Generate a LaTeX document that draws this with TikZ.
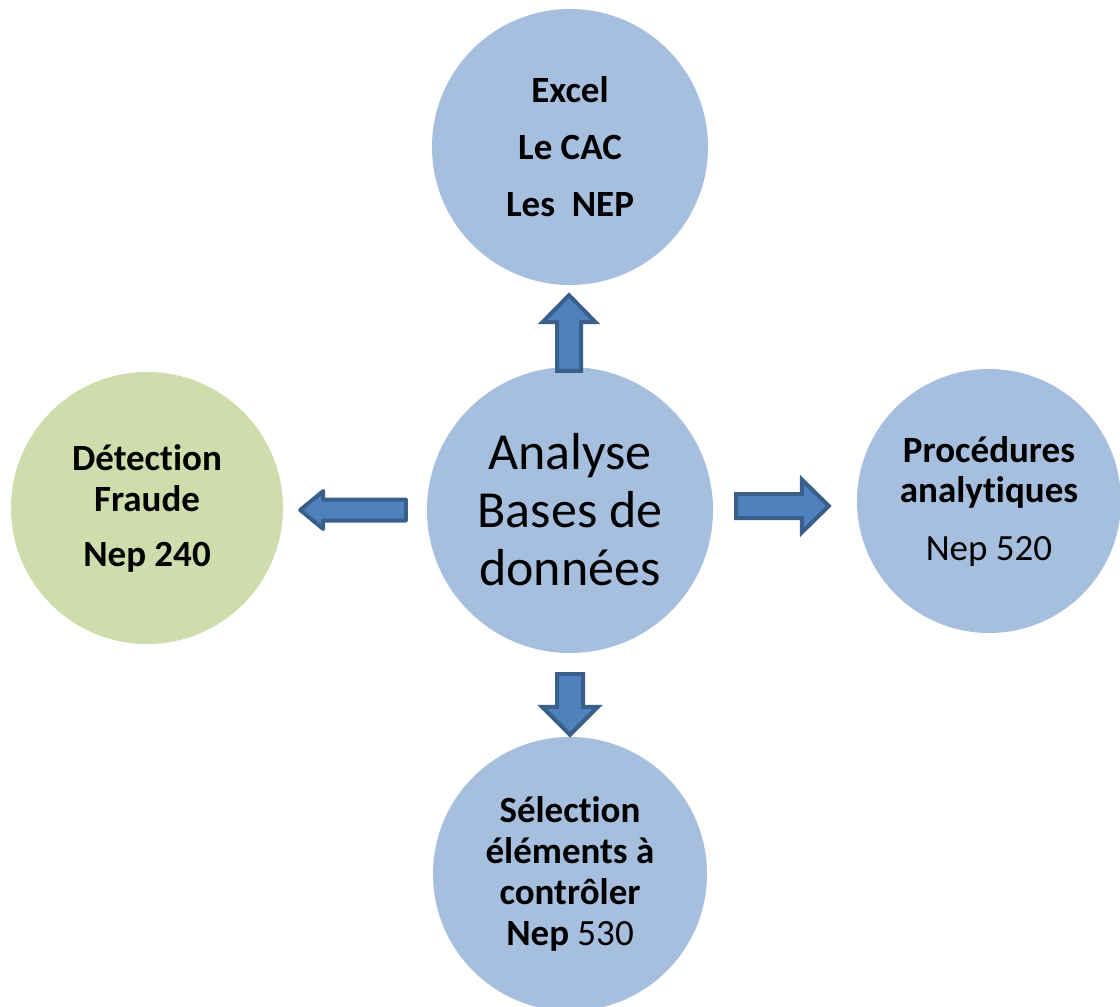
\documentclass[tikz,border=0pt]{standalone}
\usepackage{fontspec}
\setmainfont{Carlito}[RawFeature=-liga]
\usetikzlibrary{calc}

\definecolor{bubbleblue}{HTML}{A7BFDE}
\definecolor{bubblegreen}{HTML}{CFDDAC}
\definecolor{arrowfill}{HTML}{4F81BD}
\definecolor{arrowline}{HTML}{3A5F8B}

% Block arrow from #1 to #2: shaft half width #3, head half width #4, head length #5
\newcommand\blockarrow[6][]{%
  \draw[barrow, #1] let \p1=(#2), \p2=(#3),
      \n1={atan2(\y2-\y1,\x2-\x1)}, \n2={veclen(\x2-\x1,\y2-\y1)} in
    [shift={(\p1)}, rotate=\n1]
    (0,-#4) -- ({\n2-#6},-#4) -- ({\n2-#6},-#5) -- ({\n2},0)
    -- ({\n2-#6},#5) -- ({\n2-#6},#4) -- (0,#4) -- cycle;
}

\tikzset{
  bubble/.style={circle, fill=bubbleblue, draw=none, inner sep=0pt, align=center},
  greenbubble/.style={bubble, fill=bubblegreen},
  barrow/.style={fill=arrowfill, draw=arrowline, line width=4pt, line join=miter},
}

\begin{document}
\begin{tikzpicture}[x=1pt, y=-1pt]
  \useasboundingbox[fill=white] (0,0) rectangle (1120,1007);

  % circles
  \node[bubble, minimum size=286pt, font=\fontsize{52}{58}\selectfont]
    (ctr) at (570,510) {Analyse\\Bases de\\données};
  \node[bubble, minimum size=276pt, font=\fontsize{37}{44}\selectfont\bfseries]
    (top) at (570,147) {Excel\\[13pt]Le CAC\\[13pt]Les\ \ NEP};
  \node[greenbubble, minimum size=272pt, font=\fontsize{37}{41}\selectfont\bfseries]
    (left) at (147,508) {Détection\\Fraude\\[14pt]Nep 240};
  \node[bubble, minimum size=264pt, font=\fontsize{37}{40}\selectfont]
    (right) at (989,501) {\textbf{Procédures}\\\textbf{analytiques}\\[18pt]Nep 520};
  \node[bubble, minimum size=274pt, font=\fontsize{37}{41}\selectfont]
    (bottom) at (570,874) {\textbf{Sélection}\\\textbf{éléments à}\\\textbf{contrôler}\\\textbf{Nep} 530};

  % block arrows leaving the central circle
  \coordinate (upS) at ($(ctr.north)+(-1,4)$);
  \coordinate (upE) at ($(top.south)+(-1,10)$);
  \blockarrow{upS}{upE}{12}{26.5}{27}

  \coordinate (dnS) at ($(ctr.south)+(0,21)$);
  \coordinate (dnE) at ($(bottom.north)+(0,-2)$);
  \blockarrow{dnS}{dnE}{13}{28}{28}

  \coordinate (rtS) at ($(ctr.east)+(23,-4)$);
  \coordinate (rtE) at ($(right.west)+(-28,5)$);
  \blockarrow{rtS}{rtE}{12}{26.5}{27}

  \coordinate (lfS) at ($(ctr.west)+(-21,0)$);
  \coordinate (lfE) at ($(left.east)+(17,2)$);
  \blockarrow[line join=round]{lfS}{lfE}{10.5}{19}{23}
\end{tikzpicture}
\end{document}
